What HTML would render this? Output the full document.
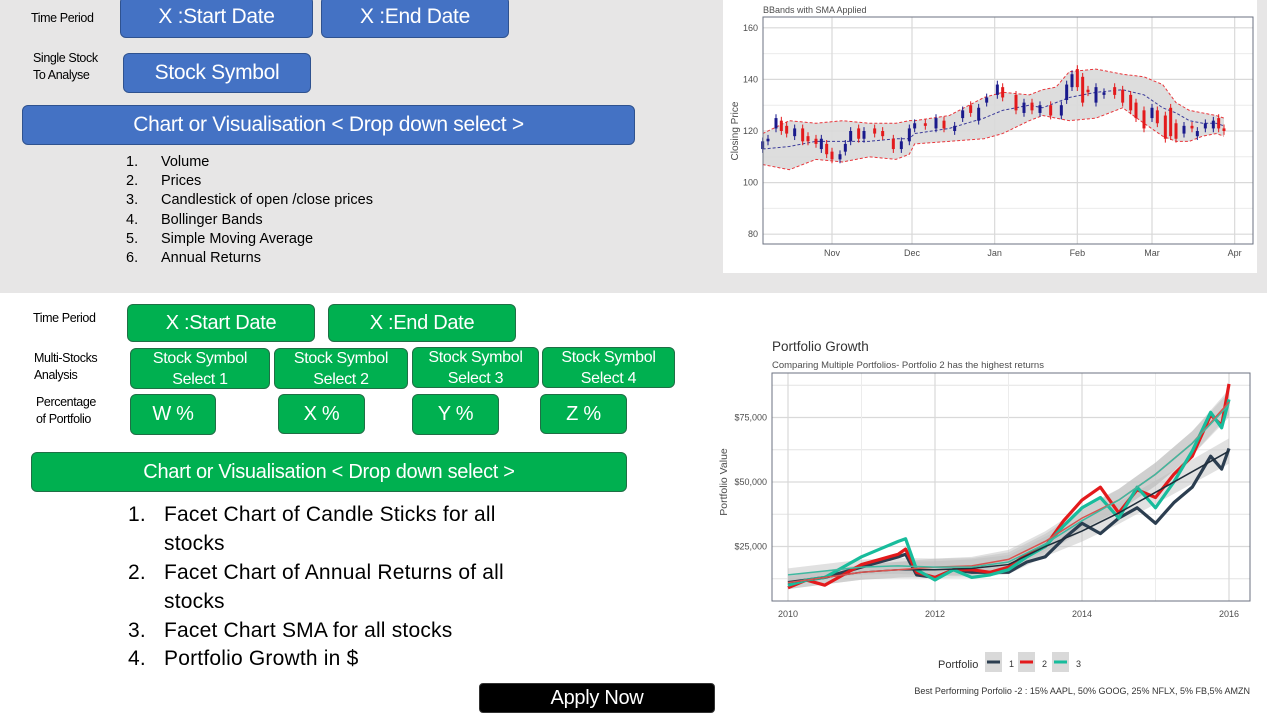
<!DOCTYPE html>
<html><head><meta charset="utf-8">
<style>
*{box-sizing:border-box;margin:0;padding:0}
body{width:1280px;height:720px;position:relative;background:#fff;font-family:"Liberation Sans",sans-serif;overflow:hidden}
.abs{position:absolute}
.top{left:0;top:0;width:1267px;height:293px;background:#e7e6e6}
.btn{position:absolute;display:flex;align-items:center;justify-content:center;color:#fff;text-align:center;border-radius:6px;letter-spacing:-0.3px}
.blue{background:#4472c4;border:1px solid #2f528f}
.green{background:#00b050;border:1px solid #1f6f45}
.lbl{position:absolute;font-size:12.5px;color:#000;line-height:17px;letter-spacing:-0.4px}
.li{position:absolute;font-size:14.5px;color:#000;letter-spacing:0px}
.li2{position:absolute;font-size:21px;color:#000;letter-spacing:0.2px}
</style></head><body>
<div class="abs top"></div>
<div class="lbl" style="left:31px;top:10px">Time Period</div>
<div class="btn blue" style="left:120px;top:-4px;width:193px;height:42px;font-size:21px">X :Start Date</div>
<div class="btn blue" style="left:321px;top:-4px;width:188px;height:42px;font-size:21px">X :End Date</div>
<div class="lbl" style="left:33px;top:50px">Single Stock<br>To Analyse</div>
<div class="btn blue" style="left:123px;top:53px;width:188px;height:40px;font-size:21px">Stock Symbol</div>
<div class="btn blue" style="left:22px;top:105px;width:613px;height:40px;font-size:21px">Chart or Visualisation &lt; Drop down select &gt;</div>
<div>
<div class="li" style="left:126px;top:154px">1.</div><div class="li" style="left:161px;top:154px">Volume</div>
<div class="li" style="left:126px;top:173px">2.</div><div class="li" style="left:161px;top:173px">Prices</div>
<div class="li" style="left:126px;top:192px">3.</div><div class="li" style="left:161px;top:192px">Candlestick of open /close prices</div>
<div class="li" style="left:126px;top:212px">4.</div><div class="li" style="left:161px;top:212px">Bollinger Bands</div>
<div class="li" style="left:126px;top:231px">5.</div><div class="li" style="left:161px;top:231px">Simple Moving Average</div>
<div class="li" style="left:126px;top:250px">6.</div><div class="li" style="left:161px;top:250px">Annual Returns</div>
</div>

<div class="lbl" style="left:33px;top:310px">Time Period</div>
<div class="btn green" style="left:127px;top:304px;width:188px;height:38px;font-size:20px">X :Start Date</div>
<div class="btn green" style="left:328px;top:304px;width:188px;height:38px;font-size:20px">X :End Date</div>
<div class="lbl" style="left:34px;top:350px">Multi-Stocks<br>Analysis</div>
<div class="btn green" style="left:130px;top:348px;width:140px;height:41px;font-size:16px;line-height:21px">Stock Symbol<br>Select 1</div>
<div class="btn green" style="left:274px;top:348px;width:134px;height:41px;font-size:16px;line-height:21px">Stock Symbol<br>Select 2</div>
<div class="btn green" style="left:412px;top:347px;width:127px;height:41px;font-size:16px;line-height:21px">Stock Symbol<br>Select 3</div>
<div class="btn green" style="left:542px;top:347px;width:133px;height:41px;font-size:16px;line-height:21px">Stock Symbol<br>Select 4</div>
<div class="lbl" style="left:36px;top:394px">Percentage<br>of Portfolio</div>
<div class="btn green" style="left:130px;top:394px;width:86px;height:41px;font-size:20px">W %</div>
<div class="btn green" style="left:278px;top:394px;width:87px;height:40px;font-size:20px">X %</div>
<div class="btn green" style="left:412px;top:394px;width:87px;height:41px;font-size:20px">Y %</div>
<div class="btn green" style="left:540px;top:394px;width:87px;height:40px;font-size:20px">Z %</div>
<div class="btn green" style="left:31px;top:452px;width:596px;height:40px;font-size:20px">Chart or Visualisation &lt; Drop down select &gt;</div>
<div>
<div class="li2" style="left:128px;top:503px">1.</div><div class="li2" style="left:164px;top:503px">Facet Chart of Candle Sticks for all</div>
<div class="li2" style="left:164px;top:532px">stocks</div>
<div class="li2" style="left:128px;top:561px">2.</div><div class="li2" style="left:164px;top:561px">Facet Chart of Annual Returns of all</div>
<div class="li2" style="left:164px;top:590px">stocks</div>
<div class="li2" style="left:128px;top:619px">3.</div><div class="li2" style="left:164px;top:619px">Facet Chart SMA for all stocks</div>
<div class="li2" style="left:128px;top:647px">4.</div><div class="li2" style="left:164px;top:647px">Portfolio Growth in $</div>
</div>
<div class="btn" style="left:479px;top:683px;width:236px;height:30px;background:#000;border:1px solid #333;font-size:20px;border-radius:4px">Apply Now</div>

<svg class="abs" style="left:0;top:0" width="1280" height="720" id="svg"></svg>

<script>
// ---------- Bollinger chart data ----------
const bbMonths=["Nov","Dec","Jan","Feb","Mar","Apr"];
const bbMonthDays=[31,61,92,123,151,182];
const bbYTicks=[80,100,120,140,160];
const cDays=[5,7,10,12,14,17,20,22,25,27,29,31,34,36,38,41,43,47,50,54,57,60,62,66,70,73,77,80,83,86,89,93,95,100,103,106,109,113,117,119,121,123,125,127,130,133,137,140,143,145,148,151,153,156,158,160,163,166,168,171,174,176,178];
const cOpen=[113,116,121,124,122,118,121,118,117,113,115,112,109,112,116,121,117,121,120,117,113,116,121,123,121,124,120,125,130,124,131,134,137,134,127,131,127,130,126,132,137,144,141,136,131,134,137,136,134,131,128,125,128,126,129,123,119,122,118,121,121,125,121];
const cClose=[116,117,125,120,119,121,116,116,115,117,111,109,111,115,120,117,120,119,118,113,116,121,123,122,125,121,122,128,127,129,133,138,133,128,131,128,130,126,130,138,142,137,131,135,137,135,134,131,128,125,121,129,123,117,118,117,122,121,120,123,124,121,120];
const bDays=[5,15,25,35,45,55,60,62,75,88,95,105,110,115,120,130,140,148,155,160,165,170,175,178];
const bUpper=[119,124,123,124,123,123,124,124,126,133,135,134,136,137,143,144,142,141,138,131,128,127,126,125];
const bSma=[113,114,116,116,116,117,117,119,121,125,128,130,129,131,133,135,136,134,129,127,124,123,123,122];
const bLower=[107,105,109,108,110,109,111,115,116,117,119,124,126,125,124,125,129,123,118,116,116,118,119,118];

// ---------- Portfolio chart data ----------
const pYears=[2010,2010.25,2010.5,2010.75,2011,2011.25,2011.5,2011.6,2011.75,2012,2012.25,2012.5,2012.75,2013,2013.25,2013.5,2013.75,2014,2014.25,2014.5,2014.75,2015,2015.25,2015.5,2015.75,2015.9,2016];
const p1=[11,12,13,15,17,19,21,22,14,13,16,15,15,15,19,21,28,34,30,36,40,34,42,48,60,55,63];
const p2=[9,12,10,14,18,20,22,24,15,13,16,16,15,17,22,25,35,43,48,38,47,44,53,60,76,72,88];
const p3=[10,12,13,17,21,24,27,28,16,12,16,13,14,16,21,25,33,40,44,36,48,40,50,62,77,71,82];
const sYears=[2010,2010.5,2011,2011.5,2012,2012.5,2013,2013.5,2014,2014.5,2015,2015.5,2016];
const s1=[11,13,15,16,16,16.5,18,25,31,38,46,54,62];
const s2=[11,13,15,16,17,17.5,20,27,36,43,53,65,81];
const s3=[14,15.5,17,17.5,17,17,19,26,35,43,53,65,80];
const pYTicks=[25000,50000,75000];
const pYTickLabels=["$25,000","$50,000","$75,000"];
const pXTicks=[2010,2012,2014,2016];

const NS="http://www.w3.org/2000/svg";
const svg=document.getElementById('svg');
function mk(tag,attrs,parent){const e=document.createElementNS(NS,tag);for(const k in attrs)e.setAttribute(k,attrs[k]);(parent||svg).appendChild(e);return e;}
function txt(s,attrs,parent){const e=mk('text',attrs,parent);e.textContent=s;return e;}

// ===== Chart 1 =====
const g1=mk('g',{});


const bg1=mk('rect',{x:723,y:0,width:534,height:273,fill:'#fff'},g1);


const L1=763,R1=1253,T1=17,B1=244;
const bx=d=>832+(d-31)*80/30;
const by=v=>131-(v-120)*2.58;
[90,110,130,150].forEach(v=>mk('line',{x1:L1,x2:R1,y1:by(v),y2:by(v),stroke:'#ebebeb','stroke-width':1},g1));
bbYTicks.forEach(v=>{
  const gl=mk('line',{x1:L1,x2:R1,y1:by(v),y2:by(v),stroke:'#d9d9d9','stroke-width':1.2},g1);
  
  
  const t=txt(String(v),{x:L1-5,y:by(v)+3,'font-size':9,fill:'#4d4d4d','text-anchor':'end'},g1);
  
  
});
bbMonths.forEach((m,i)=>{
  const x=bx(bbMonthDays[i]);
  mk('line',{x1:x,x2:x,y1:T1,y2:B1,stroke:'#d9d9d9','stroke-width':1.2},g1);
  const t=txt(m,{x:x,y:B1+12,'font-size':9,fill:'#4d4d4d','text-anchor':'middle'},g1);
  
  
});
let band='';
bDays.forEach((d,i)=>band+=(i?'L':'M')+bx(d)+','+by(bUpper[i]));
for(let i=bDays.length-1;i>=0;i--)band+='L'+bx(bDays[i])+','+by(bLower[i]);
const bandEl=mk('path',{d:band+'Z',fill:'#d9d9d9','fill-opacity':0.9},g1);


function pl(xs,ys,fx,fy){return xs.map((x,i)=>(i?'L':'M')+fx(x)+','+fy(ys[i])).join('');}
const up=mk('path',{d:pl(bDays,bUpper,bx,by),fill:'none',stroke:'#e8363b','stroke-width':1,'stroke-dasharray':'3,2'},g1);


const lo=mk('path',{d:pl(bDays,bLower,bx,by),fill:'none',stroke:'#e8363b','stroke-width':1,'stroke-dasharray':'3,2'},g1);


const sm=mk('path',{d:pl(bDays,bSma,bx,by),fill:'none',stroke:'#3b3b9a','stroke-width':1,'stroke-dasharray':'3,2'},g1);


cDays.forEach((d,i)=>{
  const o=cOpen[i],c=cClose[i];
  const col=c>=o?'#1a1a8c':'#e31a1c';
  const x=bx(d);
  const hi=Math.max(o,c)+1.5,lw=Math.min(o,c)-1.5;
  mk('line',{x1:x,x2:x,y1:by(hi),y2:by(lw),stroke:col,'stroke-width':1},g1);
  const r=mk('rect',{x:x-1.5,y:by(Math.max(o,c)),width:3,height:Math.max(1,Math.abs(by(o)-by(c))),fill:col},g1);
  
  
});
const fr1=mk('rect',{x:L1,y:T1,width:R1-L1,height:B1-T1,fill:'none',stroke:'#6b7280','stroke-width':1},g1);


const st1=txt('BBands with SMA Applied',{x:763,y:13,'font-size':9,fill:'#4d4d4d'},g1);


const yt1=txt('Closing Price',{x:0,y:0,'font-size':10,fill:'#4d4d4d','text-anchor':'middle',transform:'translate(738,131) rotate(-90)'},g1);



// ===== Chart 2 =====
const g2=mk('g',{});


const L2=772,R2=1250,T2=373,B2=601;
const px=y=>788+(y-2010)*73.5;
const py=v=>611-v*64.5/25000;
const pk=v=>py(v*1000);
[12500,37500,62500,87500].forEach(v=>mk('line',{x1:L2,x2:R2,y1:py(v),y2:py(v),stroke:'#e3e3e3','stroke-width':1},g2));
pYTicks.forEach((v,i)=>{
  mk('line',{x1:L2,x2:R2,y1:py(v),y2:py(v),stroke:'#d9d9d9','stroke-width':1.2},g2);
  const t=txt(pYTickLabels[i],{x:L2-5,y:py(v)+3,'font-size':9,fill:'#4d4d4d','text-anchor':'end'},g2);
  
  
});
[2011,2013,2015].forEach(y=>mk('line',{x1:px(y),x2:px(y),y1:T2,y2:B2,stroke:'#ececec','stroke-width':1},g2));
pXTicks.forEach(y=>{
  mk('line',{x1:px(y),x2:px(y),y1:T2,y2:B2,stroke:'#d9d9d9','stroke-width':1.2},g2);
  const t=txt(String(y),{x:px(y),y:B2+16,'font-size':9,fill:'#4d4d4d','text-anchor':'middle'},g2);
  
  
});
[s1,s2,s3].forEach((s,k)=>{
  let d='';
  sYears.forEach((y,i)=>d+=(i?'L':'M')+px(y)+','+pk(s[i]+2.5+i*0.2));
  for(let i=sYears.length-1;i>=0;i--)d+='L'+px(sYears[i])+','+pk(s[i]-2.5-i*0.2);
  const e=mk('path',{d:d+'Z',fill:'#bdbdbd','fill-opacity':0.45},g2);
  
  
});
const cols=['#2c3e50','#e31a1c','#18bc9c'];
[p1,p2,p3].forEach((s,k)=>{
  const e=mk('path',{d:pl(pYears,s,px,pk),fill:'none',stroke:cols[k],'stroke-width':3.2,'stroke-linejoin':'round'},g2);
  
  
});
[s1,s2,s3].forEach((s,k)=>{
  const e=mk('path',{d:pl(sYears,s,px,pk),fill:'none',stroke:['#1f2d3a','#d9534f','#3fb8a0'][k],'stroke-width':1.5},g2);
  
  
});
const fr2=mk('rect',{x:L2,y:T2,width:R2-L2,height:B2-T2,fill:'none',stroke:'#6b7280','stroke-width':1},g2);


const t2=txt('Portfolio Growth',{x:772,y:351,'font-size':13.5,fill:'#333'},g2);


const st2=txt('Comparing Multiple Portfolios- Portfolio 2 has the highest returns',{x:772,y:368,'font-size':9.5,fill:'#4d4d4d'},g2);


const yt2=txt('Portfolio Value',{x:0,y:0,'font-size':10.5,fill:'#4d4d4d','text-anchor':'middle',transform:'translate(727,482) rotate(-90)'},g2);


const lt=txt('Portfolio',{x:938,y:668,'font-size':11,fill:'#333'},g2);


[985,1018,1052].forEach((x,k)=>{
  const lg=mk('g',{},g2);
  
  
  mk('rect',{x:x,y:652,width:17,height:20,fill:'#d9d9d9'},lg);
  mk('line',{x1:x+2,x2:x+15,y1:662,y2:662,stroke:cols[k],'stroke-width':3},lg);
  txt(String(k+1),{x:x+24,y:667,'font-size':9,fill:'#333'},lg);
});
const cap=txt('Best Performing Porfolio -2 : 15% AAPL, 50% GOOG, 25% NFLX, 5% FB,5% AMZN',{x:1250,y:694,'font-size':9,fill:'#333','text-anchor':'end'},g2);


</script>
</body></html>
